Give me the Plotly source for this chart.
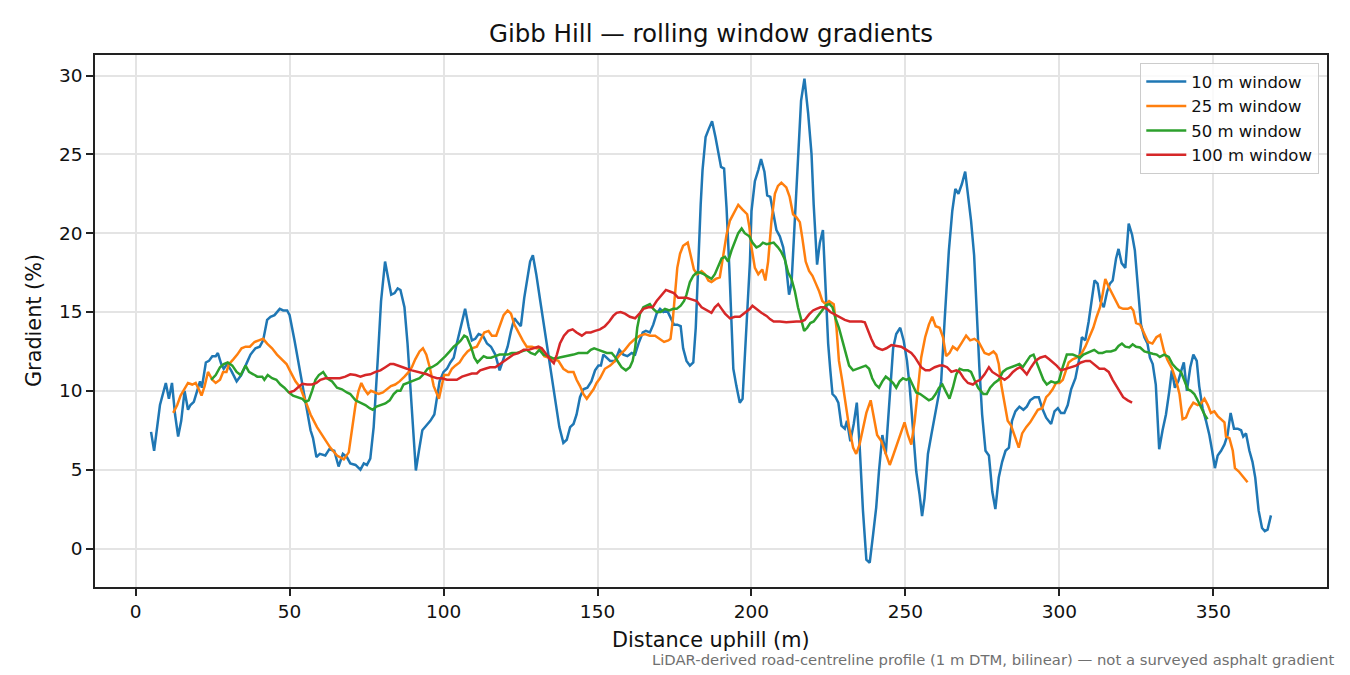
import plotly.graph_objects as go

# Rolling-window gradients along Gibb Hill
dist_10 = [5, 6, 7.9, 9.8, 10.8, 11.8, 12.8, 13.8, 14.8, 15.9, 17, 17.8, 18.9, 20, 20.9, 21.5, 22.8, 23.8, 24.9, 26,
           26.7, 27.8, 28.6, 29.7, 31, 32.8, 34.3, 35.7, 37.3, 38.9, 40.3, 41.4, 42.7, 43.8, 45.1, 46.8, 47.9, 49.2, 50, 51.6,
           53.5, 55.4, 56.8, 57.6, 58.7, 59.8, 61.6, 62.9, 64.5, 65.9, 67.3, 68.6, 69.7, 71.4, 73, 74.1, 75.1, 76.2, 77.3, 78.6,
           79.7, 81, 82, 83, 84.1, 85.1, 86, 87.3, 88.3, 89.4, 90.3, 91, 92, 93.1, 94.4, 95.7, 97, 97.9, 98.7, 100,
           101.1, 102.2, 103.3, 104.3, 105.6, 107, 108.1, 109.2, 110.3, 111.4, 112.8, 114.1, 115.4, 116.8, 118.2, 119.3, 120.8, 121.9, 123, 123.8,
           125.1, 126.2, 127.3, 128.1, 129, 130.1, 131.4, 133, 134.6, 136.2, 137.6, 138.9, 140, 141.1, 142.2, 143.2, 144.3, 145.4, 146.7, 148,
           149.2, 150.3, 151.1, 151.9, 153, 154.1, 155.7, 157.1, 158.4, 159.7, 161.1, 162.2, 163.3, 164.7, 165.7, 167, 168.1, 169.2, 170.3, 171.4,
           172.6, 173.7, 174.8, 175.9, 177, 177.8, 178.9, 180, 181.1, 181.9, 182.7, 183.5, 184.1, 185.1, 186.1, 187.2, 188.3, 189.2, 190.1, 191.1,
           191.9, 192.8, 193.5, 194.1, 195.1, 196.2, 197.1, 198.4, 199.5, 200, 201.1, 202.2, 203.1, 204.2, 205.1, 206.1, 207.2, 208.1, 209.2, 210.3,
           211.3, 212.2, 213, 214.1, 215.1, 216.1, 217.2, 218.4, 219.5, 220.2, 221.3, 222.2, 223.2, 224.1, 224.9, 225.6, 226.3, 227.3, 228.2, 229.2,
           230.3, 231, 232.1, 233.2, 234.2, 235.1, 236.2, 237.3, 238.4, 239.5, 240.5, 241.4, 242.5, 243.6, 244.9, 246, 247, 248.3, 249.4, 250.5,
           251.4, 252.4, 253.5, 254.6, 255.4, 256.2, 257.3, 258.4, 259.5, 260.5, 261.6, 262.7, 264.1, 265.2, 266.2, 267.2, 268.3, 269.4, 270.3, 271.3,
           272.3, 273.2, 274, 274.9, 276, 277.1, 278.2, 279.2, 280.3, 281.4, 282.5, 283.6, 284.6, 285.7, 287, 288.3, 289.4, 290.5, 291.9, 293.3,
           294.4, 295.7, 297.3, 298.4, 299.5, 300.5, 301.6, 302.7, 303.8, 305.2, 306.3, 307.3, 308.4, 309.5, 310.6, 311.4, 312.4, 313.3, 314.4, 315.5,
           316.4, 317.3, 318.4, 319.2, 320.2, 321.4, 322.5, 323.6, 324.5, 325.4, 326.5, 327.6, 328.6, 329.4, 330.3, 331.3, 332.4, 333.5, 334.6, 335.7,
           336.5, 337.5, 338.6, 339.6, 340.4, 341.4, 342.5, 343.5, 344.6, 345.4, 346.5, 347.6, 348.7, 349.6, 350.5, 351.4, 352.5, 353.6, 354.6, 355.6,
           356.7, 357.9, 359, 359.7, 360.6, 361.7, 362.7, 363.6, 364.7, 365.8, 366.7, 367.6, 368.7]
grad_10 = [7.4, 6.2, 9.1, 10.5, 9.5, 10.5, 8.5, 7.1, 8.1, 10.0, 8.8, 9.1, 9.3, 10.0, 10.6, 10.2, 11.8, 11.9, 12.2, 12.2,
           12.4, 11.7, 11.4, 11.7, 11.3, 10.6, 11.0, 11.6, 12.3, 12.7, 12.8, 13.2, 14.5, 14.7, 14.8, 15.2, 15.1, 15.1, 14.8, 13.2,
           11.1, 9.1, 7.5, 7.0, 5.8, 6.0, 5.9, 6.3, 6.2, 5.2, 6.0, 5.8, 5.4, 5.3, 5.0, 5.4, 5.3, 5.7, 7.7, 11.9,
           15.7, 18.2, 17.2, 16.1, 16.2, 16.5, 16.4, 15.3, 13.0, 9.8, 7.0, 4.95, 6.2, 7.5, 7.8, 8.1, 8.5, 9.6, 10.6, 11.2,
           11.4, 11.8, 12.1, 13.0, 14.1, 15.2, 14.1, 13.2, 13.3, 13.6, 13.5, 13.0, 12.8, 12.3, 11.3, 11.9, 12.8, 13.8, 14.6, 14.4,
           14.1, 15.9, 17.4, 18.2, 18.6, 17.4, 15.7, 13.6, 11.5, 9.6, 7.7, 6.7, 6.9, 7.7, 7.9, 8.5, 9.6, 10.1, 10.2, 10.6,
           11.3, 11.6, 11.6, 12.3, 12.1, 11.9, 11.9, 12.6, 12.3, 12.2, 12.4, 12.3, 13.0, 13.7, 13.8, 13.7, 14.2, 14.9, 15.2, 15.0,
           15.1, 14.6, 14.2, 14.2, 14.1, 12.7, 11.9, 11.6, 11.8, 14.0, 18.2, 21.8, 24.0, 26.1, 26.6, 27.1, 26.1, 25.2, 24.2, 24.1,
           21.6, 17.8, 14.2, 11.4, 10.3, 9.25, 9.5, 14.0, 18.2, 21.4, 23.3, 24.0, 24.7, 23.9, 22.4, 22.3, 21.2, 20.2, 19.8, 19.1,
           17.8, 16.1, 16.8, 20.8, 25.0, 28.4, 29.8, 27.6, 25.0, 21.8, 18.0, 19.4, 20.2, 16.1, 13.0, 11.3, 9.8, 9.6, 9.25, 7.8,
           7.6, 8.1, 6.8, 7.9, 9.25, 6.6, 2.4, -0.7, -0.9, 0.9, 2.6, 4.9, 7.2, 6.0, 9.8, 12.7, 13.6, 14.0, 13.2, 11.9,
           10.2, 7.7, 4.9, 3.4, 2.05, 3.2, 6.0, 7.2, 8.3, 9.4, 10.6, 14.4, 18.9, 21.4, 22.8, 22.5, 23.1, 23.9, 22.5, 20.8,
           18.6, 14.4, 11.5, 8.5, 6.2, 5.9, 3.6, 2.5, 4.5, 5.5, 6.2, 6.4, 8.1, 8.7, 9.0, 8.8, 9.0, 9.4, 9.6, 9.6,
           8.9, 8.3, 7.9, 8.7, 8.9, 8.6, 8.6, 9.1, 10.1, 10.8, 11.9, 13.4, 13.2, 14.4, 16.1, 17.0, 16.8, 15.7, 15.3, 16.3,
           16.8, 17.0, 18.4, 19.0, 18.1, 17.8, 20.6, 19.9, 18.9, 16.6, 14.2, 13.4, 13.0, 12.1, 11.7, 10.4, 6.3, 7.5, 8.5, 10.0,
           11.3, 10.2, 10.6, 11.3, 11.8, 10.0, 11.5, 12.3, 11.9, 10.3, 8.9, 8.1, 7.2, 6.2, 5.1, 5.9, 6.2, 6.6, 7.2, 8.6,
           7.6, 7.6, 7.5, 7.1, 7.3, 6.2, 5.5, 4.5, 2.4, 1.3, 1.1, 1.2, 2.1]

dist_25 = [12.2, 13.5, 14.6, 15.7, 17, 18.4, 19.5, 20.5, 21.4, 22.4, 23.5, 24.9, 26, 27.4, 28.4, 29.5, 30.3, 31.7, 33, 34.4,
           35.7, 37.1, 38.6, 40, 41.4, 42.7, 44.3, 45.9, 47.6, 49, 50.3, 51.9, 53.5, 55.1, 56.8, 58.9, 61.1, 63.2, 65.4, 67.6,
           69.2, 70.3, 71.4, 72.4, 73.3, 74.3, 75.4, 76.4, 77.5, 78.9, 80.3, 81.6, 82.9, 84.3, 85.7, 87.3, 88.7, 89.7, 90.8, 92.2,
           93.3, 94.4, 95.5, 96.8, 97.9, 98.5, 99.5, 100.2, 101.6, 102.7, 103.8, 105.2, 106.5, 107.8, 109.2, 110.8, 111.9, 113.2, 114.6, 115.7,
           117.1, 118.2, 119.5, 120.8, 121.9, 123, 124.3, 125.7, 127, 128.7, 130.1, 131.4, 132.7, 134.1, 135.7, 137.3, 138.9, 140.5, 142.2, 143.2,
           144.3, 145.4, 146.5, 147.6, 148.7, 149.7, 150.8, 152.4, 154.1, 155.7, 157.3, 158.9, 160.5, 162.2, 163.8, 165.4, 167, 168.7, 170.1, 171.6,
           173, 173.7, 174.4, 175.1, 175.9, 176.8, 177.8, 179.3, 180.2, 181.3, 182.4, 183.8, 184.9, 186, 187, 188.4, 189.7, 190.8, 191.9, 193,
           194.3, 195.7, 197.1, 198.6, 199.3, 200, 201.1, 202.2, 203.5, 204.5, 205.4, 206.5, 207.6, 208.6, 209.7, 211.3, 212.4, 213.5, 214.6, 215.7,
           216.5, 217.6, 218.7, 219.8, 220.9, 222, 223, 224.1, 225.2, 226.7, 227.6, 228.4, 229.5, 230.6, 231.7, 233, 234, 235.1, 236.2, 237.3,
           238.7, 239.7, 240.8, 242.2, 243.6, 244.9, 246, 247.2, 248.6, 249.7, 250.8, 251.9, 253, 254.1, 255.1, 256.4, 257.6, 258.7, 259.8, 261.1,
           262.2, 263.2, 264.3, 265.4, 266.8, 268.1, 269.7, 271, 272.4, 273.8, 275.7, 277.1, 278.6, 279.5, 280.3, 281.1, 282.2, 283.2, 284.3, 285.4,
           286.8, 287.9, 289.2, 290.5, 291.9, 293, 294.4, 295.7, 296.7, 297.8, 298.9, 300, 301.1, 302.2, 303, 304.3, 305.6, 307, 308.4, 309.7,
           311, 312.1, 313.2, 314, 314.9, 316, 317.1, 318.2, 319.4, 320.7, 322.2, 323.2, 324, 324.9, 326.2, 327.4, 328.8, 330.2, 331.5, 332.7,
           334, 335.1, 336.6, 337.9, 339, 340, 341.1, 342.2, 343.5, 344.9, 346, 347.1, 348.2, 349.2, 350.3, 351.4, 352.5, 353.6, 354.1, 355.2,
           356.3, 357, 358.2, 359.5, 361.1]
grad_25 = [8.6, 9.1, 9.7, 10.1, 10.5, 10.4, 10.5, 10.1, 9.7, 10.3, 11.2, 10.7, 10.5, 10.7, 11.2, 11.2, 11.7, 12.0, 12.3, 12.7,
           12.8, 12.8, 13.1, 13.2, 13.3, 13.0, 12.7, 12.3, 12.0, 11.7, 11.2, 10.6, 10.2, 9.4, 8.5, 7.7, 7.0, 6.4, 5.9, 5.65,
           6.1, 7.7, 9.1, 10.0, 10.5, 10.1, 9.8, 10.0, 9.9, 9.8, 9.9, 10.1, 10.3, 10.4, 10.6, 10.9, 11.2, 11.5, 12.0, 12.5,
           12.7, 12.3, 11.5, 10.3, 9.8, 9.5, 10.4, 11.0, 11.0, 11.4, 11.6, 11.8, 12.2, 12.5, 12.7, 12.8, 13.2, 13.7, 13.8, 13.5,
           13.5, 14.1, 14.8, 15.1, 14.9, 14.2, 13.7, 13.2, 12.8, 12.8, 12.7, 12.7, 12.2, 12.1, 12.0, 11.9, 11.4, 11.2, 11.2, 10.7,
           10.3, 9.8, 9.5, 9.8, 10.1, 10.5, 10.8, 11.4, 11.6, 11.9, 12.3, 12.6, 13.0, 13.3, 13.5, 13.6, 13.5, 13.5, 13.3, 13.1,
           13.2, 13.3, 14.4, 16.1, 17.8, 18.7, 19.2, 19.4, 18.6, 17.7, 17.4, 17.6, 17.4, 17.0, 16.9, 17.1, 17.2, 18.7, 19.9, 20.8,
           21.3, 21.8, 21.5, 21.2, 20.4, 19.1, 17.8, 17.4, 17.7, 17.0, 18.2, 20.8, 22.5, 23.0, 23.2, 22.9, 22.3, 21.2, 21.0, 20.7,
           19.7, 18.2, 17.6, 17.3, 16.8, 16.3, 15.7, 15.5, 15.7, 15.5, 14.0, 11.9, 10.6, 9.1, 7.7, 6.4, 6.0, 6.6, 7.7, 8.6,
           9.4, 8.3, 7.2, 6.8, 6.0, 5.3, 5.9, 6.6, 7.5, 8.0, 7.2, 6.6, 8.1, 10.2, 12.1, 13.4, 14.2, 14.7, 14.1, 14.0,
           13.4, 12.2, 12.4, 12.8, 12.6, 13.0, 13.5, 13.2, 13.3, 13.1, 12.4, 12.3, 12.5, 12.3, 11.7, 10.4, 9.1, 8.1, 7.8, 7.2,
           6.4, 7.3, 7.7, 8.0, 8.5, 8.8, 8.9, 9.6, 9.8, 10.1, 10.5, 10.5, 10.7, 11.3, 11.8, 12.0, 12.1, 12.3, 12.8, 13.4,
           14.0, 14.7, 15.3, 16.1, 17.1, 16.6, 16.2, 15.7, 15.3, 15.2, 15.2, 15.3, 15.1, 14.3, 14.2, 13.7, 13.1, 13.0, 13.4, 13.55,
           12.5, 11.95, 11.4, 10.65, 9.8, 8.2, 8.3, 8.85, 9.25, 9.1, 9.2, 9.5, 9.1, 8.6, 8.7, 8.4, 8.2, 8.0, 7.1, 7.0,
           6.2, 5.1, 4.9, 4.6, 4.2]

dist_50 = [24.5, 26, 27.4, 28.6, 29.9, 31.4, 32.8, 34.1, 35.7, 36.8, 38.2, 39.5, 41.1, 41.8, 42.9, 44.3, 45.7, 47, 48.3, 49.7,
           51.1, 52.4, 54.1, 55.1, 56.2, 57.3, 58.4, 59.5, 60.9, 62.2, 63.8, 65.4, 67, 68.6, 69.7, 71.4, 73, 74.6, 76, 77,
           78.2, 79.7, 81.1, 82.5, 83.8, 84.9, 86, 87, 88.1, 89.4, 90.8, 92.2, 93.5, 94.8, 96.2, 97.9, 99.1, 100.6, 102, 103.3,
           104.6, 105.6, 106.7, 107.6, 108.9, 110, 111, 111.9, 113, 114.1, 115.4, 116.8, 118.2, 119.5, 120.8, 122.2, 123.8, 125.4, 127, 128.3,
           129.7, 131.1, 132.4, 134.1, 135.7, 137.3, 138.9, 140.5, 142.2, 143.8, 145.4, 146.7, 147.8, 148.9, 150.3, 151.7, 153, 154.6, 155.7, 156.8,
           157.8, 159.2, 160.5, 161.4, 162.2, 162.9, 163.8, 164.9, 166, 167, 168.1, 169.2, 170.5, 171.9, 173.3, 174.6, 175.7, 177, 178.1, 178.9,
           180, 181.1, 182.2, 183.3, 184.5, 186, 187, 188.1, 189.2, 190.3, 191.4, 192.4, 193.5, 194.6, 195.7, 196.8, 197.8, 199.3, 200.3, 201.6,
           202.7, 203.7, 204.9, 205.9, 207.2, 208.6, 209.7, 210.8, 211.9, 213, 214.1, 215.1, 216.2, 217.1, 218.1, 219.1, 220.2, 221.3, 222.4, 223.5,
           224.3, 225.4, 226.3, 227.3, 228.4, 229.5, 230.6, 231.7, 233, 234.3, 235.7, 237.1, 238.2, 239.2, 240.3, 241.4, 242.5, 243.6, 244.9, 246,
           247, 248.1, 249.2, 250.3, 251.3, 252.4, 253.5, 254.8, 256.2, 257.6, 258.7, 259.8, 260.9, 262, 263, 264.3, 265.4, 266.5, 267.6, 268.9,
           270.3, 271.3, 272.4, 273.6, 275.3, 276.4, 277.5, 278.9, 280.3, 281.6, 282.9, 284.3, 285.7, 287, 288.1, 289.4, 290.5, 291.6, 292.6, 293.7,
           294.8, 295.9, 297.3, 298.7, 299.8, 300.9, 301.6, 302.4, 303.2, 304.3, 305.6, 306.7, 307.8, 308.9, 309.9, 311.3, 312.7, 314, 315.3, 316.7,
           318.2, 319.2, 320.3, 321.4, 322.7, 323.8, 324.9, 326.2, 327.6, 329, 330.3, 331.6, 332.6, 334, 335.5, 336.7, 338.1, 339.5, 340.6, 341.7,
           342.7, 343.8, 344.9, 346, 347.1, 348.1]
grad_50 = [10.7, 11.0, 11.5, 11.7, 11.8, 11.6, 11.2, 11.0, 11.6, 11.2, 11.05, 10.9, 10.9, 10.7, 11.0, 10.8, 10.7, 10.4, 10.2, 9.9,
           9.7, 9.6, 9.5, 9.3, 9.4, 10.0, 10.7, 11.0, 11.2, 10.8, 10.6, 10.2, 10.1, 9.9, 9.8, 9.4, 9.25, 9.1, 8.9, 8.8,
           9.0, 9.1, 9.2, 9.4, 9.8, 10.0, 10.0, 10.4, 10.5, 10.6, 10.7, 10.8, 11.05, 11.4, 11.5, 11.7, 11.9, 12.2, 12.5, 12.8,
           13.0, 13.2, 13.5, 13.4, 12.8, 12.1, 11.8, 12.0, 12.2, 12.1, 12.1, 12.2, 12.3, 12.3, 12.3, 12.4, 12.4, 12.5, 12.6, 12.4,
           12.3, 12.6, 12.3, 12.2, 12.05, 12.1, 12.15, 12.2, 12.3, 12.4, 12.4, 12.4, 12.6, 12.7, 12.6, 12.5, 12.4, 12.4, 12.15, 11.8,
           11.5, 11.3, 11.5, 11.9, 12.7, 14.0, 14.9, 15.3, 15.4, 15.5, 15.2, 15.0, 15.0, 15.2, 15.1, 15.2, 15.2, 15.4, 15.7, 16.1,
           16.9, 17.3, 17.5, 17.5, 17.4, 17.2, 17.1, 17.4, 17.9, 18.4, 18.5, 18.2, 18.9, 19.5, 20.0, 20.3, 20.0, 19.8, 19.4, 19.1,
           19.2, 19.4, 19.3, 19.35, 19.4, 19.1, 18.8, 18.35, 17.5, 17.1, 16.3, 15.3, 14.4, 13.8, 14.0, 14.3, 14.4, 14.7, 15.0, 15.3,
           15.45, 15.5, 15.3, 14.6, 14.0, 13.2, 12.3, 11.6, 11.3, 11.4, 11.5, 11.6, 11.4, 10.8, 10.4, 10.2, 10.6, 10.9, 10.7, 10.5,
           10.2, 10.6, 10.8, 10.7, 10.8, 10.3, 9.9, 9.8, 9.6, 9.4, 9.5, 9.8, 10.2, 10.4, 10.0, 9.5, 10.2, 11.05, 11.4, 11.3,
           11.3, 11.2, 10.7, 10.2, 9.8, 9.8, 10.2, 10.5, 10.7, 11.2, 11.4, 11.5, 11.6, 11.7, 11.5, 11.9, 12.2, 12.3, 11.8, 11.2,
           10.7, 10.4, 10.6, 10.5, 10.6, 11.4, 11.9, 12.3, 12.3, 12.3, 12.2, 12.1, 12.3, 12.4, 12.5, 12.6, 12.4, 12.4, 12.5, 12.5,
           12.6, 12.85, 13.0, 12.8, 12.75, 12.95, 12.8, 12.75, 12.5, 12.4, 12.35, 12.3, 12.15, 12.3, 12.15, 11.7, 11.4, 11.2, 10.6, 10.1,
           10.0, 9.8, 9.4, 8.9, 8.5, 8.2]

dist_100 = [49.7, 51.4, 52.6, 54.1, 55.7, 57.3, 58.7, 60, 61.6, 63.2, 64.9, 66.3, 68.1, 69.7, 71.4, 73, 74.6, 76.2, 77.9, 79.5,
            81.1, 82.7, 83.8, 85.1, 86.5, 88.1, 89.7, 91.4, 93, 94.6, 96.2, 97.9, 99.5, 101.1, 102.7, 104.3, 106, 107.6, 109.2, 110.8,
            111.9, 113.5, 115.1, 116.8, 118.2, 119.5, 121.1, 122.7, 124.3, 126, 127.6, 129.2, 130.8, 131.9, 133.3, 134.6, 135.8, 136.8, 137.8, 139.1,
            140.5, 141.9, 143.2, 144.9, 146.3, 147.8, 149.2, 150.8, 152.4, 153.8, 155.1, 156.2, 157.5, 158.9, 160.5, 162.2, 163.6, 164.9, 166.5, 167.9,
            169.2, 170.8, 172.2, 173.5, 174.8, 176.2, 177.6, 178.9, 180.5, 182.2, 183.8, 185.4, 187, 188.1, 189.2, 190.3, 191.4, 193, 194.6, 196.2,
            197.8, 199.5, 200.3, 201.6, 203.2, 204.9, 206, 207.2, 209.2, 211.3, 213, 214.6, 216.2, 217.3, 218.7, 220, 221.1, 222.4, 223.5, 224.5,
            225.6, 227, 228.6, 230.3, 231.9, 234, 235.7, 236.8, 237.8, 238.9, 240, 241.1, 242.5, 243.8, 245.4, 247, 248.6, 250.3, 251.9, 253,
            254.1, 255.1, 256.5, 257.8, 259.5, 261.1, 262.2, 263.5, 264.9, 266.5, 267.6, 268.9, 270.3, 271.9, 273.2, 274.3, 275.7, 277.1, 278.2, 279.5,
            280.7, 282.2, 283.6, 284.9, 286.2, 287.2, 288.3, 289.4, 290.8, 292.2, 293.7, 295.4, 296.7, 298, 299.1, 300.5, 302.2, 303.8, 305.4, 307,
            308.6, 309.9, 311.3, 313, 314.6, 316, 317.3, 318.6, 319.7, 320.7, 322.2, 323.6]
grad_100 = [9.9, 10.0, 10.2, 10.45, 10.4, 10.4, 10.5, 10.7, 10.8, 10.8, 10.8, 10.8, 10.9, 11.05, 11.0, 10.9, 11.0, 11.05, 11.2, 11.3,
            11.5, 11.7, 11.7, 11.6, 11.5, 11.4, 11.3, 11.2, 11.1, 11.05, 10.9, 10.8, 10.8, 10.7, 10.7, 10.7, 10.9, 11.0, 11.1, 11.1,
            11.3, 11.4, 11.5, 11.5, 11.7, 11.9, 12.1, 12.3, 12.4, 12.6, 12.6, 12.7, 12.8, 12.7, 12.3, 12.0, 11.75, 12.3, 13.0, 13.5,
            13.8, 13.9, 13.7, 13.5, 13.7, 13.7, 13.8, 13.9, 14.1, 14.4, 14.75, 14.95, 15.0, 14.9, 14.7, 14.6, 14.9, 15.2, 15.3, 15.3,
            15.7, 16.1, 16.4, 16.3, 16.2, 15.9, 15.9, 15.9, 15.8, 15.7, 15.3, 15.1, 14.95, 15.3, 15.5, 15.2, 14.9, 14.6, 14.7, 14.7,
            14.95, 15.2, 15.4, 15.2, 14.95, 14.75, 14.55, 14.4, 14.4, 14.35, 14.4, 14.4, 14.4, 14.5, 14.85, 15.1, 15.2, 15.3, 15.3, 15.2,
            15.0, 14.85, 14.65, 14.5, 14.4, 14.4, 14.4, 14.35, 13.8, 13.3, 12.85, 12.7, 12.6, 12.7, 12.9, 12.85, 12.8, 12.6, 12.4, 12.15,
            11.8, 11.5, 11.3, 11.3, 11.5, 11.6, 11.6, 11.5, 11.2, 11.3, 11.2, 10.8, 10.5, 10.4, 10.6, 10.7, 11.05, 11.5, 11.2, 11.05,
            10.9, 10.7, 10.9, 11.2, 11.4, 11.5, 11.3, 11.05, 11.5, 11.9, 12.1, 12.2, 12.0, 11.8, 11.6, 11.3, 11.4, 11.5, 11.6, 11.8,
            11.9, 11.9, 11.7, 11.4, 11.4, 11.2, 10.7, 10.3, 9.9, 9.6, 9.4, 9.25]

series = [
    ("10 m window", dist_10, grad_10, "#1f77b4"),
    ("25 m window", dist_25, grad_25, "#ff7f0e"),
    ("50 m window", dist_50, grad_50, "#2ca02c"),
    ("100 m window", dist_100, grad_100, "#d62728"),
]

fig = go.Figure()
for name, xs, ys, col in series:
    fig.add_trace(go.Scatter(x=xs, y=ys, mode="lines", name=name,
                             line=dict(color=col, width=2.5)))

axis_style = dict(showline=True, mirror=True, linecolor="#222222", linewidth=1.6,
                  ticks="outside", ticklen=7, tickwidth=1.6, tickcolor="#222222",
                  showgrid=True, gridcolor="#e4e4e4", gridwidth=1.6, zeroline=False,
                  tickfont=dict(size=18.5, color="#111111"))

# the page puts the figure 8 px in from the top-left corner, so the canvas is 8 px smaller
fig.update_layout(
    width=1342, height=667,
    paper_bgcolor="white", plot_bgcolor="white",
    margin=dict(l=87, r=23, t=47, b=88),
    font=dict(family="DejaVu Sans", color="#111111"),
    title=dict(text="Gibb Hill — rolling window gradients", x=0.5, xref="paper", xanchor="center",
               y=0.9625, yanchor="middle", yref="container", font=dict(size=24.5, color="#111111")),
    xaxis=dict(range=[-13.2, 386.9], tick0=0, dtick=50, **axis_style),
    yaxis=dict(range=[-2.44, 31.3], tick0=0, dtick=5, **axis_style),
    legend=dict(x=0.9935, y=0.985, xanchor="right", yanchor="top", itemwidth=40,
                bgcolor="rgba(255,255,255,0.8)", bordercolor="#cccccc", borderwidth=1.3,
                font=dict(size=16.5, color="#111111")),
    showlegend=True,
)

fig.add_annotation(text="Distance uphill (m)", xref="paper", yref="paper", x=0.5, y=-0.0996,
                   xanchor="center", yanchor="middle", showarrow=False, font=dict(size=20.8))
fig.add_annotation(text="Gradient (%)", xref="paper", yref="paper", x=-0.0495, y=0.5,
                   xanchor="center", yanchor="middle", textangle=-90, showarrow=False, font=dict(size=20.8))
fig.add_annotation(text="LiDAR-derived road-centreline profile (1 m DTM, bilinear) — not a surveyed asphalt gradient",
                   xref="paper", yref="paper", x=1.0077, y=-0.137, xanchor="right", yanchor="middle",
                   showarrow=False, font=dict(size=14.8, color="#707070"))

fig.write_html("out.html")
